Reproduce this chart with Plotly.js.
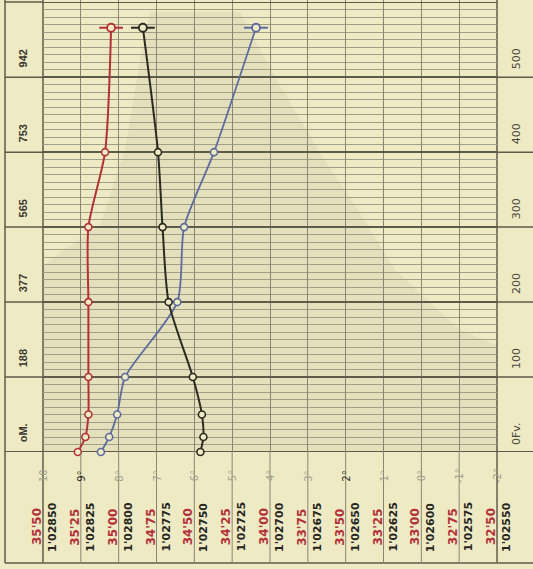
<!DOCTYPE html>
<html>
<head>
<meta charset="utf-8">
<script src="https://cdn.plot.ly/plotly-3.0.1.min.js"></script>
<style>html,body{margin:0;padding:0;background:#eeeac4;}#chart{width:533px;height:569px;}</style>
</head>
<body>
<div id="chart"></div>
<script>
// ---- data (depth in Norwegian fathoms) ----
const depthFv     = [0, 20, 50, 100, 200, 300, 400, 566];
const temperature = [8.47, 8.25, 8.04, 7.83, 6.45, 6.27, 5.48, 4.37];
const salinity    = [35.27, 35.22, 35.20, 35.20, 35.20, 35.20, 35.09, 35.05];
const density     = [1.02746, 1.02744, 1.02745, 1.02751, 1.02767, 1.02771, 1.02774, 1.02784];

// ---- tick labels ----
const tempTicks  = [10, 9, 8, 7, 6, 5, 4, 3, 2, 1, 0, -1, -2];
const tempLabels = ["10", "9°", "8°", "7°", "6°", "5°", "4°", "3°", "2°", "1°", "0°", "-1°", "-2°"];
const salTicks   = [35.50, 35.25, 35.00, 34.75, 34.50, 34.25, 34.00, 33.75, 33.50, 33.25, 33.00, 32.75, 32.50];
const salLabels  = ["35'50", "35'25", "35'00", "34'75", "34'50", "34'25", "34'00", "33'75", "33'50", "33'25", "33'00", "32'75", "32'50"];
const densTicks  = [1.02850, 1.02825, 1.02800, 1.02775, 1.02750, 1.02725, 1.02700, 1.02675, 1.02650, 1.02625, 1.02600, 1.02575, 1.02550];
const densLabels = ["1'02850", "1'02825", "1'02800", "1'02775", "1'02750", "1'02725", "1'02700", "1'02675", "1'02650", "1'02625", "1'02600", "1'02575", "1'02550"];
const depthTicks    = [0, 100, 200, 300, 400, 500];
const meterLabels   = ["oM.", "188", "377", "565", "753", "942"];
const fathomLabels  = ["0Fv.", "100", "200", "300", "400", "500"];

// ---- geometry helpers (pixel -> paper) ----
const W = 533, H = 569, ML = 43, MR = 36, PW = W - ML - MR;
const px = x => (x - ML) / PW;
const py = y => 1 - y / H;
const BG = '#eeeac4';
const GRID = '#8a8572';
const MAJOR = '#5e5a4a';

const series = [
  {x: temperature, ax: 'x',  color: '#5d6b9e', w: 1.8},
  {x: salinity,    ax: 'x2', color: '#b3323a', w: 2},
  {x: density,     ax: 'x3', color: '#2b2a22', w: 2}
];

const traces = [];
series.forEach(s => {
  traces.push({
    type: 'scatter', mode: 'lines+markers', x: s.x, y: depthFv, xaxis: s.ax, yaxis: 'y',
    line: {color: s.color, width: s.w, shape: 'spline', smoothing: 0.7},
    marker: {symbol: 'circle', size: 7, color: BG, line: {color: s.color, width: 1.6}},
    hoverinfo: 'skip', showlegend: false, cliponaxis: false
  });
  // end cap bar on the deepest observation
  traces.push({
    type: 'scatter', mode: 'markers', x: [s.x[s.x.length - 1]], y: [depthFv[depthFv.length - 1]],
    xaxis: s.ax, yaxis: 'y',
    marker: {symbol: 'line-ew', size: 17, line: {color: s.color, width: 2}},
    hoverinfo: 'skip', showlegend: false, cliponaxis: false
  });
  traces.push({
    type: 'scatter', mode: 'markers', x: [s.x[s.x.length - 1]], y: [depthFv[depthFv.length - 1]],
    xaxis: s.ax, yaxis: 'y',
    marker: {symbol: 'circle', size: 8, color: BG, line: {color: s.color, width: 1.8}},
    hoverinfo: 'skip', showlegend: false, cliponaxis: false
  });
});

const shapes = [];
// shaded show-through region of the scan
const shadePts = [[150,12],[240,12],[275,77],[320,153],[360,213],[395,270],[460,330],[497,345],[497,452],[43,452],[43,265],[100,225],[125,150],[140,60]];
shapes.push({
  type: 'path', xref: 'paper', yref: 'paper', layer: 'below',
  path: 'M ' + shadePts.map(p => px(p[0]).toFixed(4) + ',' + py(p[1]).toFixed(4)).join(' L ') + ' Z',
  fillcolor: 'rgba(120,118,95,0.08)', line: {width: 0}
});
// vertical grid lines extended through the label rows
tempTicks.forEach(t => shapes.push({
  type: 'line', xref: 'x', yref: 'paper', x0: t, x1: t, y0: py(452), y1: py(563),
  line: {color: GRID, width: 1}, layer: 'above'
}));
// heavy depth lines extended across the label columns
depthTicks.forEach(d => shapes.push({
  type: 'line', xref: 'paper', yref: 'y', x0: px(5), x1: px(533), y0: d, y1: d,
  line: {color: MAJOR, width: d === 0 ? 2 : 1.5}, layer: 'below'
}));
// frame of the label columns and rows
[[5,0,5,563],[43,0,43,563],[497,0,497,563],[5,563,533,563],[5,2,43,2]].forEach(l => shapes.push({
  type: 'line', xref: 'paper', yref: 'paper', x0: px(l[0]), x1: px(l[2]), y0: py(l[1]), y1: py(l[3]),
  line: {color: MAJOR, width: 1.5}, layer: 'below'
}));

const ann = (o) => Object.assign({showarrow: false, textangle: -90, xanchor: 'center', yanchor: 'middle'}, o);
const annotations = [];
depthTicks.forEach((d, i) => {
  annotations.push(ann({xref: 'paper', yref: 'y', x: px(23), y: d + 25, text: meterLabels[i],
    font: {family: 'Liberation Sans, Arial, sans-serif', size: 11, color: '#3a3830', weight: 'bold'}}));
  annotations.push(ann({xref: 'paper', yref: 'y', x: px(516), y: d + 24, text: fathomLabels[i],
    font: {family: 'DejaVu Sans, sans-serif', size: 11, color: '#4a473d'}}));
});
tempTicks.forEach((t, i) => annotations.push(ann({
  xref: 'x', yref: 'paper', x: t, y: py(476), text: tempLabels[i],
  font: {family: 'DejaVu Sans, sans-serif', size: 10, color: (t === 9 || t === 2) ? '#2e2c26' : '#a29f90'}
})));
salTicks.forEach((s, i) => annotations.push(ann({
  xref: 'x2', yref: 'paper', x: s, y: py(527), xshift: -6, text: salLabels[i],
  font: {family: 'DejaVu Sans, sans-serif', size: 12, color: '#b3323a', weight: 'bold'}
})));
densTicks.forEach((d, i) => annotations.push(ann({
  xref: 'x3', yref: 'paper', x: d, y: py(527), xshift: 9, text: densLabels[i],
  font: {family: 'DejaVu Sans, sans-serif', size: 11, color: '#26251f', weight: 'bold'}
})));

const hidden = {showgrid: false, zeroline: false, showticklabels: false, ticks: '', showline: false};
const layout = {
  width: W, height: H,
  margin: {l: ML, r: MR, t: 0, b: 0, pad: 0},
  paper_bgcolor: BG, plot_bgcolor: BG,
  showlegend: false,
  xaxis: {range: [10, -2], dtick: 1, tick0: 0, showgrid: true, gridcolor: GRID, gridwidth: 1,
          zeroline: false, showticklabels: false, ticks: '', showline: false, anchor: 'y'},
  xaxis2: Object.assign({range: [35.5, 32.5], overlaying: 'x', anchor: 'y'}, hidden),
  xaxis3: Object.assign({range: [1.0285, 1.0255], overlaying: 'x', anchor: 'y'}, hidden),
  yaxis: {domain: [py(452), 1], range: [0, 603], dtick: 100, tick0: 0, showgrid: true, gridcolor: MAJOR, gridwidth: 1.5,
          minor: {dtick: 10, tick0: 0, showgrid: true, gridcolor: '#a39e88', gridwidth: 1},
          zeroline: false, showticklabels: false, ticks: '', showline: false},
  shapes: shapes,
  annotations: annotations
};

Plotly.newPlot('chart', traces, layout, {staticPlot: true, displayModeBar: false});
</script>
</body>
</html>
